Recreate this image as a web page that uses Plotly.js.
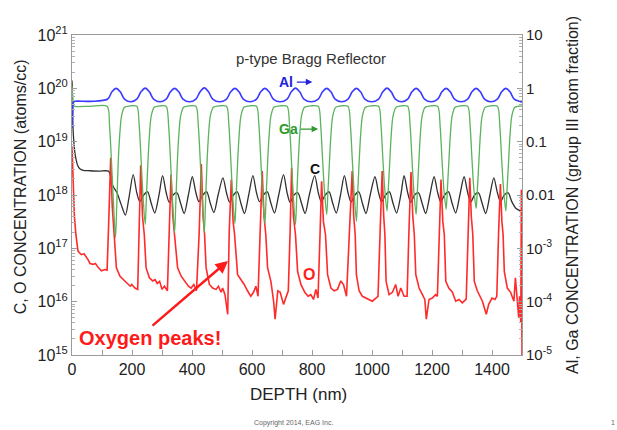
<!DOCTYPE html>
<html>
<head>
<meta charset="utf-8">
<script src="https://cdn.plot.ly/plotly-3.0.1.min.js"></script>
<style>html,body{margin:0;padding:0;background:#fff;}#chart{width:617px;height:430px;}</style>
</head>
<body>
<div id="chart"></div>
<script>
// ---------- DATA ----------
// Al atom fraction (right axis)
const depthAl = [0,2,5,10,60,
  119,133,147,161,175,196,
  216,230,244,258,272,293,
  314,328,342,356,370,392,
  413,427,441,455,469,492,
  515,529,543,557,571,593,
  615,629,643,657,671,694,
  717,731,745,759,773,797,
  821,835,849,863,877,898,
  920,934,948,962,976,999,
  1022,1036,1050,1064,1078,1099,
  1119,1133,1147,1161,1175,1197,
  1219,1233,1247,1261,1275,1297,
  1319,1333,1347,1361,1375,1396,
  1418,1432,1446,1460,1474,1496,1500];
const alFrac = [0.18,0.35,0.55,0.57,0.57,
  0.63,0.86,1.00,0.86,0.63,0.56,
  0.63,0.86,1.01,0.86,0.63,0.56,
  0.63,0.86,1.00,0.86,0.63,0.56,
  0.63,0.86,1.02,0.86,0.63,0.56,
  0.63,0.86,1.00,0.86,0.63,0.56,
  0.63,0.86,1.00,0.86,0.63,0.56,
  0.63,0.86,1.01,0.86,0.63,0.56,
  0.63,0.86,1.00,0.86,0.63,0.56,
  0.63,0.86,1.00,0.86,0.63,0.56,
  0.63,0.86,1.01,0.86,0.63,0.56,
  0.63,0.86,1.00,0.86,0.63,0.56,
  0.63,0.86,1.00,0.86,0.63,0.56,
  0.63,0.86,1.00,0.86,0.63,0.56,
  0.63,0.86,1.00,0.86,0.63,0.56,0.55];

// Ga atom fraction (right axis)
const depthGa = [0,2,5,10,60,
  117,125,131,137,145,149,154,159,165,175,195,
  216,224,230,236,244,248,253,258,264,274,294,
  314,322,328,334,342,346,351,356,362,372,392,
  413,421,427,433,441,445,450,455,461,471,492,
  515,523,529,535,543,547,552,557,563,573,593,
  615,623,629,635,643,647,652,657,663,673,694,
  717,725,731,737,745,749,754,759,765,775,797,
  821,829,835,841,849,853,858,863,869,879,898,
  920,928,934,940,948,952,957,962,968,978,999,
  1022,1030,1036,1042,1050,1054,1059,1064,1070,1080,1099,
  1119,1127,1133,1139,1147,1151,1156,1161,1167,1177,1197,
  1219,1227,1233,1239,1247,1251,1256,1261,1267,1277,1297,
  1319,1327,1333,1339,1347,1351,1356,1361,1367,1377,1396,
  1418,1426,1432,1438,1446,1450,1455,1460,1466,1476,1500];
const gaFrac = [1.1,0.7,0.48,0.46,0.46,
  0.46,0.2,0.05,0.010,0.0016,0.006,0.04,0.13,0.3,0.44,0.47,
  0.46,0.2,0.05,0.011,0.0028,0.009,0.04,0.13,0.3,0.44,0.47,
  0.46,0.2,0.05,0.010,0.0020,0.007,0.04,0.13,0.3,0.44,0.47,
  0.46,0.2,0.05,0.010,0.0020,0.007,0.04,0.13,0.3,0.44,0.47,
  0.46,0.2,0.05,0.011,0.0029,0.009,0.04,0.13,0.3,0.44,0.47,
  0.46,0.2,0.05,0.011,0.0029,0.009,0.04,0.13,0.3,0.44,0.47,
  0.46,0.2,0.05,0.011,0.0028,0.009,0.04,0.13,0.3,0.44,0.47,
  0.46,0.2,0.05,0.013,0.0043,0.011,0.04,0.13,0.3,0.44,0.47,
  0.46,0.2,0.05,0.012,0.0032,0.010,0.04,0.13,0.3,0.44,0.47,
  0.46,0.2,0.05,0.014,0.0050,0.012,0.04,0.13,0.3,0.44,0.47,
  0.46,0.2,0.05,0.013,0.0043,0.011,0.04,0.13,0.3,0.44,0.47,
  0.46,0.2,0.05,0.014,0.0054,0.012,0.04,0.13,0.3,0.44,0.47,
  0.46,0.2,0.05,0.014,0.0056,0.012,0.04,0.13,0.3,0.44,0.47,
  0.46,0.2,0.05,0.014,0.0050,0.012,0.04,0.13,0.3,0.44,0.47];

// Carbon (atoms/cc, left axis)
const depthC = [0,2,3,6,9,14,18,26,37,60,90,122,128,134,142,150,164,178,190,204,
  216,226,239,252,264,276,290,302,
  314,324,337,350,362,374,388,401,
  413,423,436,449,461,473,487,503,
  515,525,538,551,563,575,589,603,
  615,625,638,651,663,675,689,705,
  717,727,740,753,765,777,791,809,
  821,831,844,857,869,881,895,908,
  920,930,943,956,968,980,994,1010,
  1022,1032,1045,1058,1070,1082,1096,1107,
  1119,1129,1142,1155,1167,1179,1193,1207,
  1219,1229,1242,1255,1267,1279,1293,1307,
  1319,1329,1342,1355,1367,1379,1393,1406,
  1418,1428,1441,1454,1466,1480,1497];
const carbon = [1.4e20,6.0e19,2.1e19,1.0e19,6.6e18,4.5e18,3.7e18,3.1e18,2.9e18,2.85e18,2.8e18,2.8e18,2.3e18,1.6e18,1.3e18,1.1e18,6.6e17,4.2e17,9.0e17,2.4e18,
  1.1e18,7.5e17,1.0e18,1.15e18,7.0e17,4.6e17,1.0e18,2.3e18,
  1.1e18,7.3e17,1.0e18,1.10e18,7.0e17,4.5e17,1.0e18,2.2e18,
  1.1e18,7.5e17,1.0e18,1.15e18,7.0e17,4.7e17,1.0e18,2.1e18,
  1.1e18,7.4e17,1.0e18,1.15e18,7.0e17,4.5e17,1.0e18,2.3e18,
  1.1e18,7.5e17,1.0e18,1.15e18,7.0e17,4.6e17,1.0e18,2.4e18,
  1.1e18,7.3e17,1.0e18,1.10e18,7.0e17,4.5e17,1.0e18,2.3e18,
  1.1e18,7.5e17,1.0e18,1.15e18,7.0e17,4.6e17,1.0e18,2.3e18,
  1.1e18,7.4e17,1.0e18,1.15e18,7.0e17,4.5e17,1.0e18,2.2e18,
  1.1e18,7.5e17,1.0e18,1.15e18,7.0e17,4.6e17,1.0e18,2.3e18,
  1.1e18,7.3e17,1.0e18,1.10e18,7.0e17,4.5e17,1.0e18,2.2e18,
  1.1e18,7.5e17,1.0e18,1.15e18,7.0e17,4.6e17,1.0e18,2.2e18,
  1.1e18,7.4e17,1.0e18,1.10e18,7.0e17,4.5e17,1.0e18,2.1e18,
  1.1e18,7.5e17,1.0e18,1.10e18,7.5e17,5.6e17,5.0e17];

// Oxygen (atoms/cc, left axis)
const depthO = [0,3,8,13,20,31,40,53,60,70,78,87,98,110,117,
  123,129,134,140,148,160,171,182,194,199,210,219,
  224,229,235,241,247,258,269,277,284,292,300,308,318,
  324,330,336,341,352,364,375,388,397,406,415,
  424,431,437,442,447,458,469,480,488,497,502,510,519,
  524,531,537,542,552,563,574,585,596,605,613,620,
  628,634,640,646,652,663,672,677,686,694,705,713,721,
  727,732,738,745,752,763,776,787,796,805,813,820,
  827,832,838,845,852,863,874,885,896,905,915,
  926,934,939,944,948,957,968,979,990,1001,1013,1020,
  1027,1034,1039,1043,1047,1057,1068,1079,1087,1096,1107,1117,
  1123,1130,1136,1141,1146,1157,1168,1176,1181,1190,1201,1212,1218,
  1224,1230,1236,1241,1246,1256,1268,1279,1290,1301,1314,
  1320,1326,1331,1336,1341,1351,1368,1381,1389,1400,1410,1416,
  1422,1428,1433,1437,1441,1451,1462,1473,1478,1485,1489,1492,1496,1498,1500];
const oxygen = [7.9e18,1.6e18,4.0e17,1.8e17,8.9e16,7.6e16,7.9e16,6.2e16,5.2e16,5.0e16,5.2e16,4.4e16,3.8e16,4.0e16,3.9e16,
  4.0e17,5.0e18,6.3e17,1.8e17,4.3e16,3.0e16,2.6e16,2.2e16,1.95e16,2.1e16,1.8e16,1.7e16,
  2.0e17,3.6e18,4.0e17,1.8e17,4.3e16,2.8e16,2.45e16,2.6e16,2.2e16,2.4e16,1.7e16,1.95e16,1.6e16,
  2.0e17,2.4e18,4.0e17,1.8e17,4.3e16,3.0e16,2.45e16,1.95e16,1.8e16,2.1e16,1.6e16,
  2.0e17,3.8e18,4.0e17,1.8e17,4.3e16,2.1e16,1.8e16,1.7e16,1.95e16,1.5e16,1.8e16,1.35e16,5.8e15,
  2.0e17,1.95e18,3.2e17,1.8e17,3.2e16,2.6e16,2.1e16,1.6e16,1.26e16,1.5e16,1.95e16,1.26e16,
  2.0e17,2.8e18,4.0e17,1.8e17,4.3e16,2.4e16,1.02e16,4.7e15,1.6e16,1.5e16,8.9e15,1.26e16,1.6e16,
  2.0e17,3.2e18,4.0e17,1.8e17,3.7e16,2.1e16,1.5e16,1.26e16,1.35e16,1.1e16,1.7e16,1.17e16,
  2.0e17,1.8e18,3.2e17,1.8e17,3.2e16,1.8e16,1.6e16,1.7e16,2.45e16,2.1e16,1.26e16,
  2.0e17,2.8e18,4.0e17,1.8e17,3.2e16,1.6e16,1.26e16,1.17e16,1.1e16,1.02e16,1.17e16,1.26e16,
  2.0e17,2.8e18,4.0e17,1.8e17,2.4e16,1.35e16,1.5e16,2.1e16,1.26e16,1.8e16,1.26e16,1.26e16,
  2.0e17,2.7e18,4.0e17,1.8e17,3.2e16,1.8e16,1.35e16,1.1e16,4.7e15,1.1e16,1.17e16,1.35e16,1.26e16,
  2.0e17,1.95e18,3.2e17,1.8e17,2.4e16,1.8e16,1.5e16,1.02e16,1.1e16,9.5e15,1.12e16,
  2.0e17,2.1e18,4.0e17,1.8e17,2.4e16,1.6e16,1.02e16,5.8e15,8.9e15,1.17e16,1.1e16,1.26e16,
  2.0e17,1.6e18,3.2e17,1.8e17,3.7e16,1.8e16,1.5e16,1.02e16,2.8e16,1.0e16,5.0e15,1.26e16,4.0e15,1.26e18,1.0e15];

// Axis ticks
const xTicks = [0,200,400,600,800,1000,1200,1400];
const xMinorTicks = [100,300,500,700,900,1100,1300,1500];
const leftTickVals = [1e15,1e16,1e17,1e18,1e19,1e20,1e21];
const leftTickText = ['10<sup>15</sup>','10<sup>16</sup>','10<sup>17</sup>','10<sup>18</sup>','10<sup>19</sup>','10<sup>20</sup>','10<sup>21</sup>'];
const rightTickVals = [1e-5,1e-4,1e-3,0.01,0.1,1,10];
const rightTickText = ['10<sup>-5</sup>','10<sup>-4</sup>','10<sup>-3</sup>','0.01','0.1','1','10'];

// minor log ticks (2..9 in each decade)
const leftMinor = [], rightMinor = [];
for (let e = 15; e < 21; e++) for (let k = 2; k <= 9; k++) leftMinor.push(k * Math.pow(10, e));
for (let e = -5; e < 1; e++) for (let k = 2; k <= 9; k++) rightMinor.push(k * Math.pow(10, e));

const FONT = 'Liberation Sans, Arial, Helvetica, sans-serif';

const traces = [
  {x: depthGa, y: gaFrac, yaxis: 'y2', mode: 'lines', line: {color: '#5bb35b', width: 1.3, shape: 'spline', smoothing: 0.8}, hoverinfo: 'skip'},
  {x: depthAl, y: alFrac, yaxis: 'y2', mode: 'lines', line: {color: '#3b3bff', width: 1.6, shape: 'spline', smoothing: 1}, hoverinfo: 'skip'},
  {x: depthC, y: carbon, mode: 'lines', line: {color: '#303030', width: 1.3, shape: 'spline', smoothing: 0.8}, hoverinfo: 'skip'},
  {x: depthO, y: oxygen, mode: 'lines', line: {color: '#ff2a2a', width: 1.6}, hoverinfo: 'skip'}
];

function note(text, x, y, size, color, extra) {
  return Object.assign({text: text, xref: 'paper', yref: 'paper', x: x, y: y,
    xanchor: 'center', yanchor: 'middle', showarrow: false,
    font: {size: size, color: color, family: FONT}}, extra || {});
}
function arrow(x, y, ax, ay, color, width) {
  return {text: '', xref: 'paper', yref: 'paper', x: x, y: y, ax: ax, ay: ay, showarrow: true,
    arrowhead: 2, arrowsize: 1, arrowwidth: width, arrowcolor: color, standoff: 0, startstandoff: 0};
}

const axisLine = '#9a9a9a';
const layout = {
  width: 617, height: 430,
  margin: {l: 72, r: 95, t: 35, b: 75},
  paper_bgcolor: '#ffffff', plot_bgcolor: '#ffffff',
  showlegend: false,
  font: {family: FONT, color: '#222'},
  xaxis: {
    range: [0, 1500], tickmode: 'array', tickvals: xTicks, ticktext: xTicks.map(String),
    ticks: 'inside', ticklen: 5, tickcolor: axisLine,
    minor: {tickmode: 'array', tickvals: xMinorTicks, ticks: 'inside', ticklen: 5, tickcolor: axisLine},
    showline: true, mirror: true, linecolor: axisLine, linewidth: 1,
    showgrid: false, zeroline: false, tickfont: {size: 16, family: FONT, color: '#222'}
  },
  yaxis: {
    type: 'log', range: [15, 21], tickmode: 'array', tickvals: leftTickVals, ticktext: leftTickText,
    ticks: 'inside', ticklen: 5, tickcolor: axisLine,
    minor: {tickmode: 'array', tickvals: leftMinor, ticks: 'inside', ticklen: 3, tickcolor: '#b0b0b0'},
    showline: true, mirror: true, linecolor: axisLine, linewidth: 1,
    showgrid: false, zeroline: false, tickfont: {size: 16, family: FONT, color: '#222'}
  },
  yaxis2: {
    type: 'log', range: [-5, 1], overlaying: 'y', side: 'right',
    tickmode: 'array', tickvals: rightTickVals, ticktext: rightTickText,
    ticks: 'inside', ticklen: 5, tickcolor: axisLine,
    minor: {tickmode: 'array', tickvals: rightMinor, ticks: 'inside', ticklen: 3, tickcolor: '#b0b0b0'},
    showline: true, linecolor: axisLine, linewidth: 1,
    showgrid: false, zeroline: false, tickfont: {size: 15, family: FONT, color: '#222'}
  },
  annotations: [
    note('p-type Bragg Reflector', 0.532, 0.928, 15, '#333'),
    note('<b>Al</b>', 0.4755, 0.853, 14, '#2222dd'),
    arrow(0.534, 0.853, -17, 0, '#2222dd', 1.3),
    note('<b>Ga</b>', 0.482, 0.706, 14, '#2e9a2e'),
    arrow(0.547, 0.706, -19, 0, '#2e9a2e', 1.3),
    note('<b>C</b>', 0.539, 0.581, 14, '#111'),
    note('<b>O</b>', 0.527, 0.253, 16, '#ff2020'),
    note('<b>Oxygen peaks!</b>', 0.174, 0.052, 20, '#ff1a1a'),
    arrow(0.3467, 0.294, -77, 66, '#ff1a1a', 2.5),
    note('C, O CONCENTRATION (atoms/cc)', -0.1156, 0.527, 16, '#222', {textangle: -90}),
    note('Al, Ga CONCENTRATION (group III atom fraction)', 1.111, 0.5, 16, '#222', {textangle: -90}),
    note('DEPTH (nm)', 0.5033, -0.122, 17, '#222'),
    note('Copyright 2014, EAG Inc.', 0.492, -0.212, 7, '#666'),
    note('1', 1.202, -0.212, 7, '#666')
  ]
};

Plotly.newPlot('chart', traces, layout, {staticPlot: true, displayModeBar: false});
</script>
</body>
</html>
